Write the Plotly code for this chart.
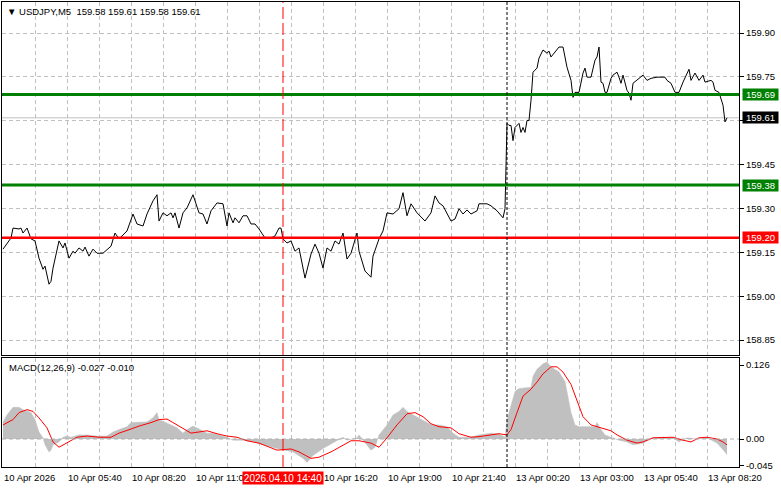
import plotly.graph_objects as go

# ---------------- data (bar index = 5-minute bars from 10 Apr 03:00) ----------------
price_idx = [0, 2, 4, 5, 8, 9, 10, 12, 14, 16, 18, 20, 21, 23, 24, 25, 28, 30, 31, 33, 35, 36, 38, 40, 41, 43, 45, 47, 50,
             54, 56, 58, 62, 65, 67, 70, 72, 75, 77, 78, 80, 82, 84, 85, 86, 88, 90, 92, 95, 98, 100, 102, 104, 107, 110,
             112, 113, 115, 116, 118, 120, 122, 124, 126, 128, 131, 134, 136, 138, 139, 140, 142, 144, 146, 148, 151, 154,
             156, 158, 160, 162, 164, 166, 168, 170, 172, 174, 177, 178, 181, 184, 185, 188, 190, 192, 195, 198, 200, 202,
             204, 207, 211, 214, 216, 218, 220, 224, 226, 228, 230, 232, 234, 237, 238, 242, 244, 247, 250, 251,
             252, 253, 254, 255, 256, 258, 259, 260, 261, 262, 263, 264, 265, 266, 267, 268, 270, 272, 273, 274, 276, 278,
             280, 282, 284, 285, 286, 288, 290, 291, 292, 294, 296, 297, 298, 299, 300, 301, 302, 304, 305, 307, 308, 309,
             310, 312, 313, 314, 315, 317, 318, 320, 322, 324, 327, 331, 332, 334, 336, 338, 340, 341, 343, 344, 346, 348,
             350, 351, 354, 355, 356, 358, 360, 361, 362]
price_close = [159.161, 159.178, 159.199, 159.233, 159.230, 159.233, 159.216, 159.233, 159.196, 159.189, 159.130, 159.092,
               159.103, 159.041, 159.051, 159.096, 159.189, 159.165, 159.182, 159.130, 159.154, 159.147, 159.165, 159.154,
               159.168, 159.137, 159.161, 159.147, 159.147, 159.171, 159.216, 159.196, 159.223, 159.281, 159.247, 159.240,
               159.281, 159.326, 159.347, 159.257, 159.285, 159.275, 159.285, 159.268, 159.285, 159.233, 159.285, 159.302,
               159.347, 159.285, 159.281, 159.247, 159.292, 159.319, 159.316, 159.240, 159.285, 159.251, 159.268, 159.251,
               159.275, 159.275, 159.247, 159.247, 159.230, 159.199, 159.199, 159.206, 159.233, 159.233, 159.196, 159.182,
               159.189, 159.154, 159.165, 159.062, 159.144, 159.178, 159.147, 159.096, 159.165, 159.154, 159.189, 159.178,
               159.216, 159.127, 159.147, 159.216, 159.154, 159.086, 159.065, 159.137, 159.196, 159.223, 159.285, 159.281,
               159.299, 159.354, 159.275, 159.316, 159.285, 159.257, 159.285, 159.343, 159.319, 159.309, 159.257, 159.264,
               159.299, 159.281, 159.295, 159.281, 159.292, 159.316, 159.316, 159.309, 159.292, 159.268, 159.299,
               159.591, 159.584, 159.584, 159.532, 159.577, 159.591, 159.560, 159.577, 159.560, 159.601, 159.601, 159.670,
               159.766, 159.773, 159.780, 159.814, 159.842, 159.831, 159.838, 159.818, 159.835, 159.852, 159.852, 159.783,
               159.738, 159.680, 159.697, 159.697, 159.763, 159.780, 159.749, 159.749, 159.807, 159.818, 159.852, 159.732,
               159.728, 159.697, 159.697, 159.745, 159.756, 159.766, 159.749, 159.728, 159.756, 159.704, 159.694, 159.670,
               159.728, 159.738, 159.745, 159.756, 159.738, 159.745, 159.749, 159.749, 159.738, 159.728, 159.697, 159.697,
               159.732, 159.745, 159.776, 159.738, 159.763, 159.738, 159.756, 159.732, 159.738, 159.732, 159.704, 159.697,
               159.653, 159.596, 159.610]

macd_idx = [0, 2, 5, 8, 10, 14, 16, 18, 20, 21, 23, 24, 25, 28, 30, 32, 34, 38, 42, 47, 52, 55, 58, 62, 64, 68, 72, 75,
            77, 78, 81, 84, 87, 90, 92, 95, 98, 102, 105, 108, 112, 115, 120, 125, 128, 137, 145, 150, 152, 155, 160, 165,
            170, 172, 177, 178, 181, 184, 186, 188, 192, 195, 198, 200, 202, 205, 208, 212, 215, 218, 222, 225, 228, 234,
            238, 244, 248, 251, 252, 254, 256, 258, 264, 265, 267, 270, 272, 274, 278, 281, 282, 284, 286, 288, 292, 296,
            297, 299, 301, 305, 308, 312, 315, 320, 325, 330, 335, 338, 342, 347, 352, 357, 359, 361, 362]
macd_val = [0.029, 0.041, 0.054, 0.054, 0.050, 0.045, 0.033, 0.012, 0.002, -0.010, -0.022, -0.019, -0.010, -0.005,
            0.003, 0.005, 0.003, 0.007, 0.007, 0.005, 0.005, 0.012, 0.016, 0.021, 0.028, 0.028, 0.029, 0.036, 0.045,
            0.033, 0.029, 0.024, 0.019, 0.010, 0.016, 0.022, 0.017, 0.010, 0.010, 0.007, 0.003, -0.002, -0.002, -0.005,
            -0.008, -0.016, -0.022, -0.033, -0.040, -0.028, -0.016, -0.007, 0.003, -0.002, 0.002, 0.007, -0.007, -0.019,
            -0.014, 0.007, 0.024, 0.041, 0.047, 0.054, 0.047, 0.041, 0.036, 0.028, 0.024, 0.024, 0.021, 0.010, 0.003,
            0.003, 0.007, 0.010, 0.009, 0.003, 0.033, 0.059, 0.081, 0.086, 0.088, 0.107, 0.119, 0.128, 0.131, 0.123,
            0.114, 0.098, 0.081, 0.045, 0.024, 0.021, 0.021, 0.021, 0.028, 0.016, 0.007, 0.002, -0.002, -0.005, -0.010,
            -0.007, 0.002, 0.003, 0.002, -0.005, 0.002, 0.000, 0.002, -0.007, -0.014, -0.022, -0.027]

signal_idx = [0, 5, 8, 12, 15, 18, 22, 25, 28, 30, 34, 37, 42, 48, 54, 58, 64, 68, 74, 78, 82, 85, 90, 94, 98, 102, 107,
              112, 117, 122, 128, 137, 144, 148, 154, 158, 164, 168, 174, 178, 184, 188, 192, 197, 202, 206, 210, 214,
              218, 224, 228, 234, 238, 244, 248, 252, 254, 257, 260, 264, 267, 270, 274, 277, 280, 284, 287, 290, 294,
              297, 300, 304, 307, 312, 317, 320, 325, 330, 335, 340, 344, 348, 352, 357, 360, 362]
signal_val = [0.024, 0.033, 0.045, 0.050, 0.047, 0.036, 0.019, -0.005, -0.014, -0.010, -0.002, 0.003, 0.005, 0.003,
              0.003, 0.010, 0.017, 0.022, 0.028, 0.033, 0.034, 0.028, 0.017, 0.010, 0.012, 0.014, 0.009, 0.005, 0.003,
              -0.003, -0.007, -0.019, -0.017, -0.022, -0.033, -0.031, -0.022, -0.014, -0.003, -0.003, -0.007, -0.014,
              0.002, 0.024, 0.043, 0.045, 0.038, 0.026, 0.021, 0.019, 0.009, 0.003, 0.004, 0.007, 0.009, 0.007, 0.016,
              0.045, 0.073, 0.085, 0.097, 0.111, 0.123, 0.123, 0.114, 0.093, 0.067, 0.038, 0.024, 0.021, 0.019, 0.014,
              0.007, -0.002, -0.007, -0.005, 0.002, 0.003, 0.003, -0.002, -0.005, 0.002, 0.003, 0.000, -0.005, -0.010]

# visible time-axis labels (the 11:00 label is partly covered by the cursor date box in the original)
time_tick_idx = [0, 32, 64, 96, 160, 192, 224, 256, 288, 320, 352]
time_tick_labels = ["10 Apr 2026", "10 Apr 05:40", "10 Apr 08:20", "10 Apr 11:0", "10 Apr 16:20",
                    "10 Apr 19:00", "10 Apr 21:40", "13 Apr 00:20", "13 Apr 03:00", "13 Apr 05:40", "13 Apr 08:20"]
grid_idx = list(range(16, 368, 16))

price_ticks = [158.85, 159.00, 159.15, 159.30, 159.45, 159.60, 159.75, 159.90]
price_tick_text = ["158.85", "159.00", "159.15", "159.30", "159.45", "", "159.75", "159.90"]
macd_ticks = [0.126, 0.0, -0.045]
macd_tick_text = ["0.126", "0.00", "-0.045"]

green_levels = [159.69, 159.38]
red_levels = [159.20]
last_price = 159.61
cursor_idx = 140
cursor_label = "2026.04.10 14:40"
separator_idx = 252
title_text = "▼ USDJPY,M5\u00a0\u00a0159.58 159.61 159.58 159.61"
macd_text = "MACD(12,26,9) -0.027 -0.010"

# ---------------- figure ----------------
FONT = "Liberation Sans"
FS = 9.5
GRID = "#c0c0c0"
GDASH = "4px,3px"

fig = go.Figure()
fig.add_trace(go.Scatter(x=price_idx, y=price_close, mode="lines",
                         line=dict(color="black", width=1), xaxis="x", yaxis="y", hoverinfo="skip"))
fig.add_trace(go.Scatter(x=macd_idx, y=macd_val, mode="lines", fill="tozeroy", fillcolor="#c0c0c0",
                         line=dict(color="#c0c0c0", width=0.5), xaxis="x2", yaxis="y2", hoverinfo="skip"))
fig.add_trace(go.Scatter(x=signal_idx, y=signal_val, mode="lines",
                         line=dict(color="red", width=1), xaxis="x2", yaxis="y2", hoverinfo="skip"))

axis_common = dict(showline=True, mirror=True, linecolor="black", linewidth=1, zeroline=False)

fig.update_layout(
    width=781, height=489,
    margin=dict(l=2, r=42, t=2, b=22),
    paper_bgcolor="white", plot_bgcolor="white",
    showlegend=False,
    hovermode=False,
    font=dict(family=FONT, size=FS, color="black"),
    xaxis=dict(domain=[0, 1], range=[-0.5, 368], anchor="y", tickvals=grid_idx, showticklabels=False, ticks="",
               showgrid=True, gridcolor=GRID, griddash=GDASH, gridwidth=1, **axis_common),
    yaxis=dict(domain=[0.2409, 1], range=[158.799, 160.006], side="right", anchor="x",
               tickvals=price_ticks, ticktext=price_tick_text, ticks="outside", ticklen=4, tickcolor="black",
               showgrid=True, gridcolor=GRID, griddash=GDASH, gridwidth=1,
               tickfont=dict(family=FONT, size=FS, color="black"), **axis_common),
    xaxis2=dict(domain=[0, 1], range=[-0.5, 368], anchor="y2", tickvals=grid_idx, showticklabels=False, ticks="",
                showgrid=True, gridcolor=GRID, griddash=GDASH, gridwidth=1, **axis_common),
    yaxis2=dict(domain=[0, 0.2344], range=[-0.0477, 0.138], side="right", anchor="x2",
                tickvals=macd_ticks, ticktext=macd_tick_text, ticks="outside", ticklen=4, tickcolor="black",
                showgrid=False, tickfont=dict(family=FONT, size=FS, color="black"), **axis_common),
)

shapes = []
# current price line
shapes.append(dict(type="line", xref="x domain", yref="y", x0=0, x1=1, y0=last_price, y1=last_price,
                   line=dict(color="#c0c0c0", width=1), layer="below"))
# MACD zero line
shapes.append(dict(type="line", xref="x2 domain", yref="y2", x0=0, x1=1, y0=0, y1=0,
                   line=dict(color="#b0b0b0", width=1, dash=GDASH), layer="above"))
# level lines
for lv in green_levels:
    shapes.append(dict(type="line", xref="x domain", yref="y", x0=0, x1=1, y0=lv, y1=lv,
                       line=dict(color="#008000", width=3), layer="above"))
for lv in red_levels:
    shapes.append(dict(type="line", xref="x domain", yref="y", x0=0, x1=1, y0=lv, y1=lv,
                       line=dict(color="#ff0000", width=2.5), layer="above"))
# day separator and cursor line
for yr in ["y", "y2"]:
    shapes.append(dict(type="line", xref="x", yref=yr + " domain", x0=separator_idx, x1=separator_idx, y0=0, y1=1,
                       line=dict(color="black", width=1, dash="3px,2px"), layer="above"))
    shapes.append(dict(type="line", xref="x", yref=yr + " domain", x0=cursor_idx, x1=cursor_idx, y0=0, y1=1,
                       line=dict(color="#ff0000", width=1, dash="12px,4px"), layer="above"))
fig.update_layout(shapes=shapes)

ann = []
ann.append(dict(xref="paper", yref="paper", x=0, y=1, xanchor="left", yanchor="top", xshift=3, yshift=-2,
                text=title_text, showarrow=False, font=dict(family=FONT, size=FS, color="black")))
ann.append(dict(xref="paper", yref="paper", x=0, y=0.2344, xanchor="left", yanchor="top", xshift=5, yshift=-2,
                text=macd_text, showarrow=False, font=dict(family=FONT, size=FS, color="black")))
for i, t in zip(time_tick_idx, time_tick_labels):
    ann.append(dict(xref="x", yref="paper", x=i, y=0, xanchor="left", yanchor="top", yshift=-3, xshift=-1,
                    text=t, showarrow=False, font=dict(family=FONT, size=FS, color="black")))
ann.append(dict(xref="x", yref="paper", x=cursor_idx, y=0, xanchor="center", yanchor="top", yshift=-4,
                text=cursor_label, showarrow=False, bgcolor="#ff0000", width=80, height=12, borderpad=0,
                font=dict(family=FONT, size=FS + 0.5, color="white")))


def level_label(val, color):
    return dict(xref="paper", yref="y", x=1, y=val, xanchor="left", yanchor="middle", xshift=3,
                text=f"{val:.2f}", showarrow=False, bgcolor=color, width=35, height=11, borderpad=0,
                font=dict(family=FONT, size=FS, color="white"))


for lv in green_levels:
    ann.append(level_label(lv, "#008000"))
for lv in red_levels:
    ann.append(level_label(lv, "#ff0000"))
ann.append(level_label(last_price, "#000000"))
fig.update_layout(annotations=ann)

fig.write_html("out.html", config={"displayModeBar": False, "staticPlot": True},
               post_script="document.body.style.margin='0';document.body.style.padding='0';")
